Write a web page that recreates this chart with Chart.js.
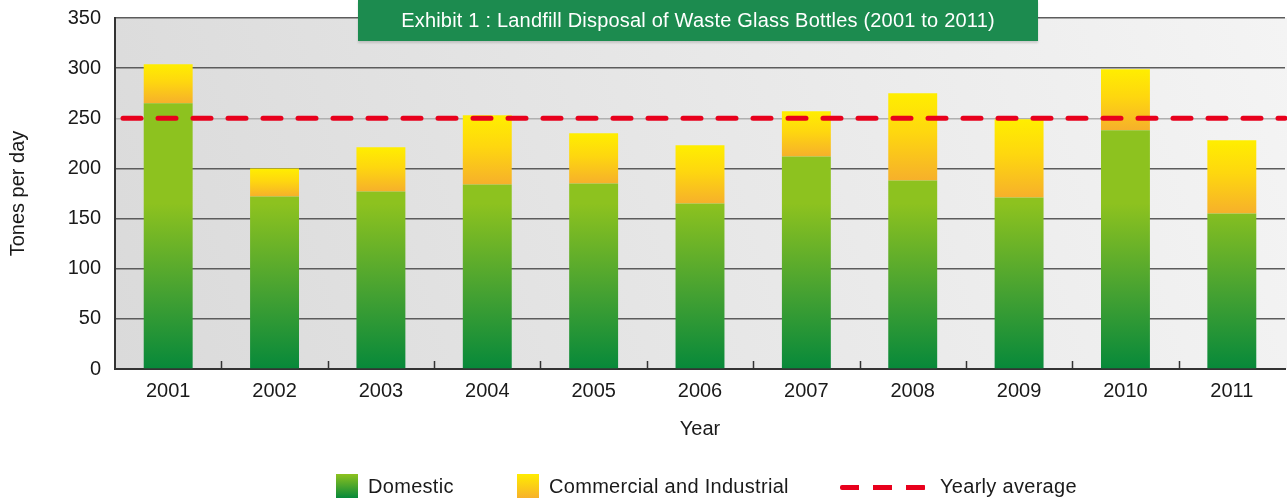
<!DOCTYPE html>
<html>
<head>
<meta charset="utf-8">
<script src="https://cdn.jsdelivr.net/npm/chart.js@4.4.1/dist/chart.umd.min.js"></script>
<style>
  html, body { margin: 0; padding: 0; background: #fff; }
  #wrap { position: relative; width: 1287px; height: 499px; font-family: "Liberation Sans", Arial, sans-serif; }
  #title {
    position: absolute; left: 358px; top: 0; width: 680px; height: 41px;
    background: #1c8b4f; color: #fff; font-size: 20px; letter-spacing: 0.2px; line-height: 40px; text-align: center;
    box-shadow: 0 2px 2px rgba(0,0,0,0.15);
  }
  #legend { position: absolute; left: 336px; top: 474px; height: 24px; color: #1a1a1a; font-size: 20px; letter-spacing: 0.3px; }
  #legend .item { position: absolute; top: 0; white-space: nowrap; line-height: 24px; }
  #legend .sq { display: inline-block; width: 22px; height: 24px; vertical-align: top; margin-right: 10px; }
  #legend .dash { display: inline-block; width: 86px; height: 5px; vertical-align: middle; margin-right: 14px;
    background: repeating-linear-gradient(to right, #e8001c 0 19px, transparent 19px 33px); border-radius: 2px; }
</style>
</head>
<body>
<div id="wrap">
  <canvas id="chart" width="1287" height="499"></canvas>
  <div id="title">Exhibit 1 : Landfill Disposal of Waste Glass Bottles (2001 to 2011)</div>
  <div id="legend">
    <div class="item" style="left:0"><span class="sq" style="background:linear-gradient(#8dc21f,#07893a)"></span>Domestic</div>
    <div class="item" style="left:181px"><span class="sq" style="background:linear-gradient(#ffec00,#f7b12b)"></span>Commercial and Industrial</div>
    <div class="item" style="left:504px"><span class="dash"></span>Yearly average</div>
  </div>
</div>
<script>
const years = ['2001', '2002', '2003', '2004', '2005', '2006', '2007', '2008', '2009', '2010', '2011'];
const domestic = [265, 172, 177, 184, 185, 165, 212, 188, 171, 238, 155];
const commercial = [39, 28, 44, 69, 50, 58, 45, 87, 78, 61, 73];
const yearlyAverage = 250;
const yTicks = [0, 50, 100, 150, 200, 250, 300, 350];

const fontFamily = '"Liberation Sans", Arial, sans-serif';

function domesticColor(ctx) {
  const chart = ctx.chart;
  if (!chart.chartArea) return '#8dc21f';
  const y = chart.scales.y;
  const g = chart.ctx.createLinearGradient(0, y.getPixelForValue(0), 0, y.getPixelForValue(165));
  g.addColorStop(0, '#07893a');
  g.addColorStop(0.45, '#44a132');
  g.addColorStop(1, '#8dc21f');
  return g;
}

function commercialColor(ctx) {
  const chart = ctx.chart;
  if (!chart.chartArea) return '#ffd400';
  const y = chart.scales.y;
  const i = ctx.dataIndex;
  const base = domestic[i];
  const top = base + commercial[i];
  const g = chart.ctx.createLinearGradient(0, y.getPixelForValue(base), 0, y.getPixelForValue(top));
  g.addColorStop(0, '#f6b02b');
  g.addColorStop(0.55, '#fed70f');
  g.addColorStop(1, '#ffee00');
  return g;
}

// plot background, gridlines are drawn on top of it
const backgroundPlugin = {
  id: 'plotBackground',
  beforeDraw(chart) {
    const { ctx, chartArea: a } = chart;
    ctx.save();
    const g = ctx.createLinearGradient(a.left, a.bottom, a.right, a.top);
    g.addColorStop(0, '#dadada');
    g.addColorStop(1, '#f4f4f4');
    ctx.fillStyle = g;
    ctx.fillRect(a.left, a.top, a.right - a.left + 2, a.bottom - a.top);
    ctx.restore();
  }
};

// small ticks between categories and the dashed average line
const overlayPlugin = {
  id: 'overlay',
  afterDatasetsDraw(chart) {
    const { ctx, chartArea: a, scales } = chart;
    const x = scales.x, y = scales.y;
    ctx.save();
    ctx.strokeStyle = '#333';
    ctx.lineWidth = 1.5;
    for (let i = 0; i < years.length - 1; i++) {
      const px = Math.round((x.getPixelForValue(i) + x.getPixelForValue(i + 1)) / 2) + 0.5;
      ctx.beginPath();
      ctx.moveTo(px, a.bottom);
      ctx.lineTo(px, a.bottom - 8);
      ctx.stroke();
    }
    const py = y.getPixelForValue(yearlyAverage);
    ctx.strokeStyle = '#e8001c';
    ctx.lineWidth = 5;
    ctx.lineCap = 'round';
    ctx.setLineDash([18, 17]);
    ctx.beginPath();
    ctx.moveTo(a.left + 8, py);
    ctx.lineTo(a.right, py);
    ctx.stroke();
    ctx.restore();
  }
};

const chart = new Chart(document.getElementById('chart'), {
  type: 'bar',
  data: {
    labels: years,
    datasets: [
      { label: 'Domestic', data: domestic, backgroundColor: domesticColor, stack: 's' },
      { label: 'Commercial and Industrial', data: commercial, backgroundColor: commercialColor, stack: 's' }
    ]
  },
  options: {
    responsive: false,
    animation: false,
    layout: { padding: { top: 18, right: 2, bottom: 50, left: 0 } },
    datasets: { bar: { barPercentage: 0.46, categoryPercentage: 1, borderWidth: 0 } },
    plugins: { legend: { display: false }, tooltip: { enabled: false } },
    scales: {
      x: {
        stacked: true,
        afterFit(scale) { scale.height = 80; },
        grid: { display: false, drawTicks: false },
        border: { color: '#333', width: 2 },
        ticks: { color: '#1a1a1a', font: { family: fontFamily, size: 20 }, padding: 10 },
        title: { display: true, text: 'Year', color: '#1a1a1a', font: { family: fontFamily, size: 20 }, padding: { top: 4, bottom: 8 } }
      },
      y: {
        stacked: true,
        min: 0,
        max: 350,
        afterFit(scale) {
          scale.width = 115;
          scale.paddingTop = 0;
          scale.paddingBottom = 0;
        },
        afterBuildTicks(scale) { scale.ticks = yTicks.map(v => ({ value: v })); },
        grid: {
          drawTicks: false,
          color: ctx => ctx.tick && ctx.tick.value === yearlyAverage ? '#b0b0b0' : '#5c5c5c',
          lineWidth: 1.5
        },
        border: { color: '#333', width: 2 },
        ticks: { color: '#1a1a1a', font: { family: fontFamily, size: 20 }, padding: 14 },
        title: { display: true, text: 'Tones per day', color: '#1a1a1a', font: { family: fontFamily, size: 20 }, padding: { top: 6 } }
      }
    }
  },
  plugins: [backgroundPlugin, overlayPlugin]
});
chart.update();
</script>
</body>
</html>
